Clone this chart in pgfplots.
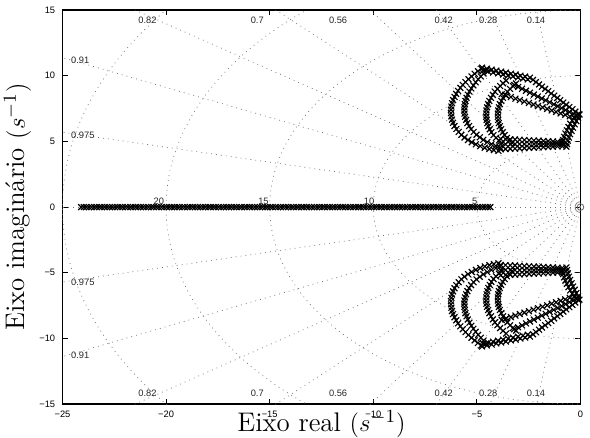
\documentclass[border=0pt]{standalone}
\usepackage{fontspec}
\setsansfont{Liberation Sans}
\usepackage{pgfplots}
\usepackage{pgfplotstable}
\pgfplotsset{compat=1.18}

% polos complexos (semiplano superior); o inferior e o conjugado
\pgfplotstableread{
x y
-4.79 10.54
-4.95 10.35
-5.11 10.15
-5.26 9.95
-5.41 9.74
-5.55 9.52
-5.68 9.30
-5.80 9.08
-5.91 8.85
-6.00 8.62
-6.08 8.39
-6.15 8.15
-6.20 7.91
-6.23 7.66
-6.25 7.41
-6.25 7.16
-6.23 6.91
-6.20 6.66
-6.15 6.42
-6.08 6.18
-5.99 5.95
-5.88 5.72
-5.75 5.50
-5.60 5.30
-5.43 5.11
-5.25 4.94
-5.05 4.78
-4.84 4.64
-4.62 4.52
-4.40 4.42
-4.18 4.34
-3.96 4.28
-4.55 10.39
-4.68 10.17
-4.81 9.95
-4.94 9.73
-5.06 9.50
-5.17 9.27
-5.27 9.04
-5.36 8.80
-5.44 8.56
-5.50 8.32
-5.55 8.08
-5.58 7.84
-5.60 7.60
-5.61 7.36
-5.60 7.12
-5.57 6.88
-5.52 6.64
-5.46 6.40
-5.38 6.17
-5.28 5.94
-5.16 5.72
-5.02 5.51
-4.86 5.31
-4.69 5.12
-4.50 4.95
-4.30 4.79
-4.09 4.65
-3.88 4.53
-3.59 9.63
-3.74 9.43
-3.88 9.22
-4.01 9.00
-4.13 8.78
-4.23 8.55
-4.32 8.32
-4.40 8.08
-4.46 7.84
-4.51 7.60
-4.54 7.36
-4.55 7.12
-4.55 6.88
-4.53 6.64
-4.50 6.40
-4.45 6.16
-4.38 5.93
-4.30 5.70
-4.20 5.48
-4.08 5.27
-3.94 5.07
-3.78 4.88
-3.11 9.41
-3.26 9.21
-3.40 9.00
-3.53 8.78
-3.64 8.55
-3.74 8.32
-3.82 8.08
-3.89 7.84
-3.94 7.60
-3.97 7.36
-3.99 7.12
-3.99 6.88
-3.97 6.64
-3.94 6.40
-3.89 6.16
-3.83 5.93
-3.75 5.70
-3.66 5.48
-3.55 5.27
-3.43 5.07
-3.30 4.88
-4.75 10.62
-4.52 10.54
-4.29 10.47
-4.06 10.39
-3.83 10.32
-3.60 10.24
-3.36 10.16
-3.13 10.09
-2.90 10.01
-2.67 9.94
-2.44 9.86
-4.70 10.40
-4.46 10.33
-4.22 10.25
-3.98 10.18
-3.74 10.10
-3.50 10.02
-3.26 9.95
-3.02 9.87
-2.78 9.80
-2.55 9.72
-2.29 9.69
-2.15 9.52
-2.00 9.34
-1.86 9.17
-1.71 9.00
-1.56 8.83
-1.42 8.65
-1.27 8.48
-1.12 8.31
-0.98 8.14
-0.83 7.96
-0.69 7.79
-0.54 7.62
-0.39 7.45
-0.25 7.27
-0.10 7.10
-3.20 9.30
-3.01 9.15
-2.82 9.01
-2.63 8.86
-2.44 8.71
-2.25 8.57
-2.06 8.42
-1.87 8.27
-1.68 8.13
-1.49 7.98
-1.29 7.83
-1.10 7.68
-0.91 7.54
-0.72 7.39
-0.53 7.24
-0.34 7.10
-0.15 6.95
-3.80 8.60
-3.58 8.49
-3.36 8.38
-3.14 8.26
-2.93 8.15
-2.71 8.04
-2.49 7.93
-2.27 7.81
-2.05 7.70
-1.83 7.59
-1.61 7.48
-1.39 7.36
-1.18 7.25
-0.96 7.14
-0.74 7.03
-0.52 6.91
-0.30 6.80
-0.05 7.05
-0.12 6.80
-0.20 6.55
-0.28 6.30
-0.36 6.05
-0.43 5.80
-0.50 5.55
-0.56 5.30
-0.61 5.05
-0.65 4.80
-0.68 4.60
-0.30 6.85
-0.40 6.60
-0.50 6.35
-0.58 6.10
-0.66 5.85
-0.73 5.60
-0.79 5.35
-0.84 5.10
-0.88 4.85
-3.85 5.20
-3.62 5.18
-3.39 5.16
-3.16 5.15
-2.94 5.13
-2.71 5.11
-2.48 5.09
-2.25 5.07
-2.02 5.06
-1.79 5.04
-1.56 5.02
-1.33 5.00
-1.11 4.98
-0.88 4.97
-3.85 4.80
-3.62 4.80
-3.39 4.80
-3.16 4.80
-2.94 4.80
-2.71 4.80
-2.48 4.80
-2.25 4.80
-2.02 4.80
-1.79 4.80
-1.56 4.80
-1.33 4.80
-1.11 4.80
-0.88 4.80
-3.85 4.40
-3.62 4.42
-3.39 4.44
-3.16 4.45
-2.94 4.47
-2.71 4.49
-2.48 4.51
-2.25 4.53
-2.02 4.54
-1.79 4.56
-1.56 4.58
-1.33 4.60
-1.11 4.62
-0.88 4.63
}\polos

\tikzset{
  sg/.style={black!55, line width=0.35pt, dash pattern=on 0.4pt off 2pt},
  lab/.style={font=\sffamily\fontsize{4.5}{5}\selectfont, inner sep=0.5pt, text=black!85},
  polo/.style={only marks, mark=x, mark size=2pt, black, mark options={line width=0.55pt}},
}

\begin{document}
\begin{tikzpicture}
\begin{axis}[
    scale only axis,
    width=250.4pt, height=190.4pt,
    xmin=-25, xmax=0, ymin=-15, ymax=15,
    xtick={-25,-20,...,0}, ytick={-15,-10,...,15},
    xticklabels={−25,−20,−15,−10,−5,0},
    yticklabels={−15,−10,−5,0,5,10,15},
    tick align=inside, tick pos=both, major tick length=2.5pt,
    every tick/.style={black, line width=0.5pt},
    ticklabel style={font=\sffamily\fontsize{4.5}{5}\selectfont},
    axis line style={line width=0.8pt},
    xlabel={Eixo real $(s^{-1})$},
    ylabel={Eixo imagin\'ario $(s^{-1})$},
    label style={font=\fontsize{13}{15}\selectfont},
    xlabel style={at={(axis description cs:0.5,0)}, anchor=north, inner sep=0pt, yshift=-3pt},
    ylabel style={at={(axis description cs:-0.06,0.5)}, anchor=south, inner sep=0pt},
]
\coordinate (ll) at (rel axis cs:0,0);

% grade: retas de amortecimento
\draw[sg] (axis cs:0,0) -- (axis cs:-40,0);
\draw[sg] (axis cs:0,0) -- (axis cs:-5.6,39.61);
\draw[sg] (axis cs:0,0) -- (axis cs:-11.2,38.4);
\draw[sg] (axis cs:0,0) -- (axis cs:-16.8,36.3);
\draw[sg] (axis cs:0,0) -- (axis cs:-22.4,33.14);
\draw[sg] (axis cs:0,0) -- (axis cs:-28,28.57);
\draw[sg] (axis cs:0,0) -- (axis cs:-32.8,22.9);
\draw[sg] (axis cs:0,0) -- (axis cs:-36.4,16.58);
\draw[sg] (axis cs:0,0) -- (axis cs:-39,8.89);
\draw[sg] (axis cs:0,0) -- (axis cs:-5.6,-39.61);
\draw[sg] (axis cs:0,0) -- (axis cs:-11.2,-38.4);
\draw[sg] (axis cs:0,0) -- (axis cs:-16.8,-36.3);
\draw[sg] (axis cs:0,0) -- (axis cs:-22.4,-33.14);
\draw[sg] (axis cs:0,0) -- (axis cs:-28,-28.57);
\draw[sg] (axis cs:0,0) -- (axis cs:-32.8,-22.9);
\draw[sg] (axis cs:0,0) -- (axis cs:-36.4,-16.58);
\draw[sg] (axis cs:0,0) -- (axis cs:-39,-8.89);
% grade: frequencia natural
\draw[sg] (axis cs:0,5) arc[start angle=90, end angle=270, x radius=50.08pt, y radius=31.73pt];
\draw[sg] (axis cs:0,10) arc[start angle=90, end angle=270, x radius=100.16pt, y radius=63.47pt];
\draw[sg] (axis cs:0,15) arc[start angle=90, end angle=270, x radius=150.24pt, y radius=95.2pt];
\draw[sg] (axis cs:0,20) arc[start angle=90, end angle=270, x radius=200.32pt, y radius=126.93pt];
\draw[sg] (axis cs:0,25) arc[start angle=90, end angle=270, x radius=250.4pt, y radius=158.67pt];

\node[lab] at (axis cs:-20.9,14.2) {0.82};
\node[lab] at (axis cs:-15.6,14.2) {0.7};
\node[lab] at (axis cs:-11.7,14.2) {0.56};
\node[lab] at (axis cs:-6.6,14.2) {0.42};
\node[lab] at (axis cs:-4.45,14.2) {0.28};
\node[lab] at (axis cs:-2.15,14.2) {0.14};
\node[lab] at (axis cs:-20.9,-14.2) {0.82};
\node[lab] at (axis cs:-15.6,-14.2) {0.7};
\node[lab] at (axis cs:-11.7,-14.2) {0.56};
\node[lab] at (axis cs:-6.6,-14.2) {0.42};
\node[lab] at (axis cs:-4.45,-14.2) {0.28};
\node[lab] at (axis cs:-2.15,-14.2) {0.14};
\node[lab, anchor=west] at (axis cs:-24.65,11.2) {0.91};
\node[lab, anchor=west] at (axis cs:-24.65,5.5) {0.975};
\node[lab, anchor=west] at (axis cs:-24.65,-5.7) {0.975};
\node[lab, anchor=west] at (axis cs:-24.65,-11.3) {0.91};
\node[lab, anchor=south] at (axis cs:-20.35,0.1) {20};
\node[lab, anchor=south] at (axis cs:-15.3,0.1) {15};
\node[lab, anchor=south] at (axis cs:-10.2,0.1) {10};
\node[lab, anchor=south] at (axis cs:-5.1,0.1) {5};

% zero na origem
\addplot[only marks, mark=o, mark size=1.6pt, black!60, mark options={line width=0.4pt}]
  coordinates {(0,0)};

% polos
\addplot[polo] coordinates {
  (-24.10,0) (-23.85,0) (-23.60,0) (-23.35,0) (-23.10,0) (-22.85,0) (-22.60,0) (-22.35,0)
  (-22.10,0) (-21.85,0) (-21.60,0) (-21.35,0) (-21.10,0) (-20.85,0) (-20.60,0) (-20.35,0)
  (-20.10,0) (-19.85,0) (-19.60,0) (-19.35,0) (-19.10,0) (-18.85,0) (-18.60,0) (-18.35,0)
  (-18.10,0) (-17.85,0) (-17.60,0) (-17.35,0) (-17.10,0) (-16.85,0) (-16.60,0) (-16.35,0)
  (-16.10,0) (-15.85,0) (-15.60,0) (-15.35,0) (-15.10,0) (-14.85,0) (-14.60,0) (-14.35,0)
  (-14.10,0) (-13.85,0) (-13.60,0) (-13.35,0) (-13.10,0) (-12.85,0) (-12.60,0) (-12.35,0)
  (-12.10,0) (-11.85,0) (-11.60,0) (-11.35,0) (-11.10,0) (-10.85,0) (-10.60,0) (-10.35,0)
  (-10.10,0) (-9.85,0) (-9.60,0) (-9.35,0) (-9.10,0) (-8.85,0) (-8.60,0) (-8.35,0)
  (-8.10,0) (-7.85,0) (-7.60,0) (-7.35,0) (-7.10,0) (-6.85,0) (-6.60,0) (-6.35,0)
  (-6.10,0) (-5.85,0) (-5.60,0) (-5.35,0) (-5.10,0) (-4.85,0) (-4.60,0) (-4.35,0)
  (-23.97,0) (-23.72,0) (-23.47,0) (-23.22,0) (-22.97,0) (-22.72,0) (-22.47,0) (-22.22,0)
  (-21.97,0) (-21.72,0) (-21.47,0) (-21.22,0) (-20.97,0) (-20.72,0) (-20.47,0) (-20.22,0)
  (-19.97,0) (-19.72,0) (-19.47,0) (-19.22,0) (-18.97,0) (-18.72,0) (-18.47,0) (-18.22,0)
  (-17.97,0) (-17.72,0) (-17.47,0) (-17.22,0) (-16.97,0) (-16.72,0) (-16.47,0) (-16.22,0)
  (-15.97,0) (-15.72,0) (-15.47,0) (-15.22,0) (-14.97,0) (-14.72,0) (-14.47,0) (-14.22,0)
  (-13.97,0) (-13.72,0) (-13.47,0) (-13.22,0) (-12.97,0) (-12.72,0) (-12.47,0) (-12.22,0)
  (-11.97,0) (-11.72,0) (-11.47,0) (-11.22,0) (-10.97,0) (-10.72,0) (-10.47,0) (-10.22,0)
  (-9.97,0) (-9.72,0) (-9.47,0) (-9.22,0) (-8.97,0) (-8.72,0) (-8.47,0) (-8.22,0)
  (-7.97,0) (-7.72,0) (-7.47,0) (-7.22,0) (-6.97,0) (-6.72,0) (-6.47,0) (-6.22,0)
  (-5.97,0) (-5.72,0) (-5.47,0) (-5.22,0) (-4.97,0) (-4.72,0) (-4.47,0)
  };
\addplot[polo] table[x=x, y=y] {\polos};
\addplot[polo] table[x=x, y expr=-\thisrow{y}] {\polos};
\end{axis}
\path (ll) ++(-30.2pt,-15.8pt);
\path (ll) ++(252.8pt,193.3pt);
\end{tikzpicture}
\end{document}
